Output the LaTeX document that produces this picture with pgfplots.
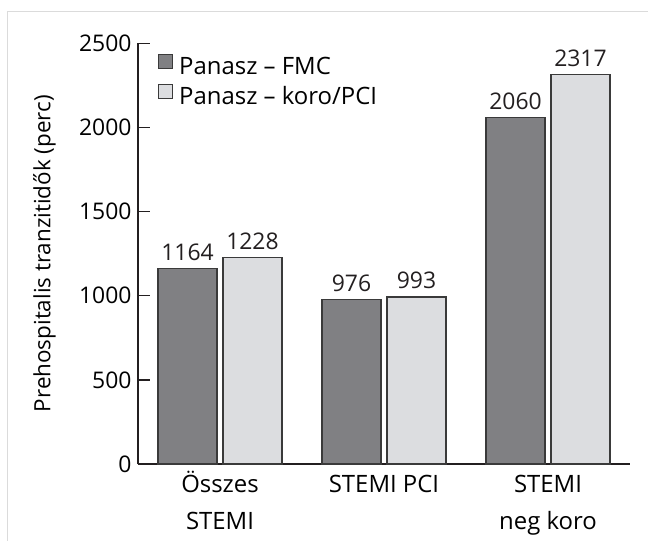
\documentclass[border=0pt]{standalone}
\usepackage{pgfplots}
\pgfplotsset{compat=1.18}
\usepackage{fontspec}
\setmainfont{Open Sans}
\definecolor{darkbar}{HTML}{808083}
\definecolor{lightbar}{HTML}{DCDDE0}
\definecolor{edge}{HTML}{3A3A3A}
\definecolor{axcol}{HTML}{231F20}
\begin{document}
\begin{tikzpicture}
\useasboundingbox (-138bp,-77bp) rectangle (510bp,464bp);
\draw[color=black!14, line width=0.8bp] (-131bp,-77bp) -- (-131bp,453bp) -- (510bp,453bp);
\begin{axis}[
  at={(0,0)}, anchor=south west,
  scale only axis, width=492bp, height=420.5bp,
  xmin=-0.5, xmax=2.5, ymin=0, ymax=2500,
  axis lines*=left,
  axis line style={line width=1.2bp, color=axcol},
  every tick/.style={line width=1.2bp, color=axcol},
  tick align=inside,
  major tick length=12bp,
  /pgf/number format/assume math mode=true,
  /pgf/number format/1000 sep={},
  font=\fontsize{23}{37}\selectfont,
  ybar, bar width=0.36,
  xtick={0,1,2},
  xticklabels={{Összes\\[0bp]STEMI},{\vphantom{Ö}STEMI PCI},{\vphantom{Ö}STEMI\\[0bp]neg koro}},
  xticklabel style={align=center, anchor=north, font=\fontsize{24}{37}\selectfont, yshift=8bp},
  x tick style={draw=none},
  extra x ticks={0.5,1.5,2.5},
  extra x tick labels={},
  extra x tick style={tick style={draw=axcol, line width=1.2bp}},
  ytick={0,500,1000,1500,2000,2500},
  yticklabel style={xshift=-3bp, font=\fontsize{23}{26}\selectfont},
  ylabel={Prehospitalis tranzitidők (perc)},
  ylabel style={at={(axis description cs:-0.19,0.5)}, anchor=center, font=\fontsize{22.5}{26}\selectfont},
  nodes near coords,
  nodes near coords style={font=\fontsize{23}{26}\selectfont, color=axcol, anchor=south, yshift=4bp},
  legend style={draw=none, fill=none, at={(axis description cs:0.0407,0.975)}, anchor=north west,
    inner sep=0pt, row sep=0bp, font=\fontsize{24}{26}\selectfont,
    nodes={inner ysep=2bp, inner xsep=6bp, text height=18bp, text depth=8bp}},
  legend cell align=left,
  legend image code/.code={\draw[#1, draw=edge, line width=1bp] (0bp,0.5bp) rectangle (14bp,14.5bp);},
]
\addplot[fill=darkbar, draw=edge, line width=1.2bp, bar shift=-0.198] coordinates {(0,1164) (1,976) (2,2060)};
\addplot[fill=lightbar, draw=edge, line width=1.2bp, bar shift=0.198] coordinates {(0,1228) (1,993) (2,2317)};
\legend{Panasz – FMC, Panasz – koro/PCI}
\end{axis}
\end{tikzpicture}
\end{document}
